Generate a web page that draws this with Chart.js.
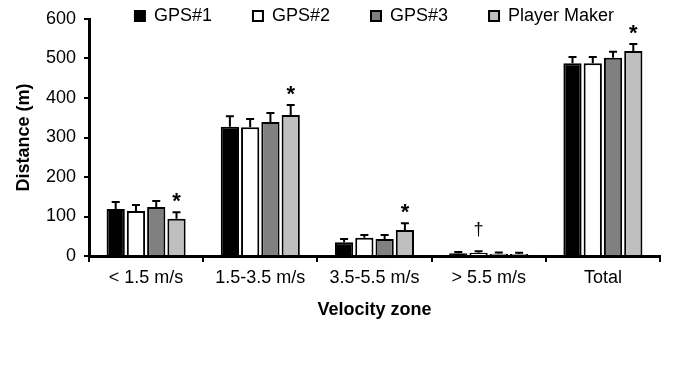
<!DOCTYPE html>
<html lang="en">
<head>
  <meta charset="UTF-8">
  <title>Distance by velocity zone</title>
  <script src="https://cdn.jsdelivr.net/npm/chart.js"></script>
  <style>
    body { margin: 0; background: #fff; }
    .wrap { width: 679px; height: 371px; }
  </style>
</head>
<body>
<div class="wrap"><canvas id="chart" width="679" height="371"></canvas></div>
<script>
  const zones = ['< 1.5 m/s', '1.5-3.5 m/s', '3.5-5.5 m/s', '> 5.5 m/s', 'Total'];
  const yTicks = [0, 100, 200, 300, 400, 500, 600];

  const gps1 = [119, 327, 35, 7, 488];
  const gps2 = [114, 326, 46, 8, 488];
  const gps3 = [124, 339, 43, 6, 502];
  const playerMaker = [94, 357, 66, 5, 519];

  const gps1Sd = [18, 27, 8, 3, 16];
  const gps2Sd = [15, 21, 7, 4, 16];
  const gps3Sd = [15, 23, 10, 3, 15];
  const playerMakerSd = [17, 25, 17, 3, 18];

  // significance marks: [dataset index, zone index, symbol]
  const marks = [
    [3, 0, '*'], [3, 1, '*'], [3, 2, '*'], [1, 3, '\u2020'], [3, 4, '*']
  ];

  const font = "'Liberation Sans', Arial, sans-serif";
  const sds = [gps1Sd, gps2Sd, gps3Sd, playerMakerSd];

  // centre the legend over the plot area and let its text spill below its box
  const legendShift = {
    id: 'legendShift',
    afterLayout(chart) {
      const lg = chart.legend, ca = chart.chartArea;
      const dx = (ca.left + ca.right) / 2 - (lg.left + lg.right) / 2;
      lg.left += dx;
      lg.right += dx;
      lg.bottom += 14;
    }
  };

  const errorBars = {
    id: 'errorBars',
    afterDatasetsDraw(chart) {
      const ctx = chart.ctx;
      const y = chart.scales.y;
      ctx.save();
      ctx.strokeStyle = '#000';
      ctx.lineWidth = 2;
      chart.data.datasets.forEach((ds, di) => {
        const meta = chart.getDatasetMeta(di);
        meta.data.forEach((bar, i) => {
          const top = y.getPixelForValue(ds.data[i] + sds[di][i]);
          ctx.beginPath();
          ctx.moveTo(bar.x, bar.y);
          ctx.lineTo(bar.x, top);
          ctx.moveTo(bar.x - 4, top);
          ctx.lineTo(bar.x + 4, top);
          ctx.stroke();
        });
      });
      ctx.fillStyle = '#000';
      ctx.textAlign = 'center';
      ctx.textBaseline = 'middle';
      marks.forEach(([di, i, sym]) => {
        const bar = chart.getDatasetMeta(di).data[i];
        const ds = chart.data.datasets[di];
        const top = y.getPixelForValue(ds.data[i] + sds[di][i]);
        if (sym === '*') {
          ctx.font = 'bold 22px ' + font;
          ctx.fillText(sym, bar.x, top - 10);
        } else {
          ctx.font = '18px ' + font;
          ctx.fillText(sym, bar.x, top - 21);
        }
      });
      ctx.restore();
    }
  };

  const common = { borderColor: '#000', borderWidth: 2, categoryPercentage: 0.71, barPercentage: 0.9 };

  new Chart(document.getElementById('chart'), {
    type: 'bar',
    data: {
      labels: zones,
      datasets: [
        { label: 'GPS#1', data: gps1, backgroundColor: '#000', ...common },
        { label: 'GPS#2', data: gps2, backgroundColor: '#fff', ...common },
        { label: 'GPS#3', data: gps3, backgroundColor: '#808080', ...common },
        { label: 'Player Maker', data: playerMaker, backgroundColor: '#bfbfbf', ...common }
      ]
    },
    options: {
      responsive: false,
      animation: false,
      layout: { padding: { left: 9, right: 19, top: -34, bottom: 46 } },
      plugins: {
        tooltip: { enabled: false },
        legend: {
          position: 'top',
          maxHeight: 53,
          labels: {
            color: '#000',
            font: { family: font, size: 18 },
            boxWidth: 10,
            boxHeight: 10,
            padding: 41
          }
        }
      },
      scales: {
        x: {
          border: { color: '#000', width: 3 },
          grid: { drawOnChartArea: false, color: '#000', lineWidth: 2, tickLength: 6 },
          ticks: { color: '#000', font: { family: font, size: 18 }, padding: 5, maxRotation: 0 },
          title: { display: true, text: 'Velocity zone', color: '#000', font: { family: font, size: 18, weight: 'bold' }, padding: 4 },
          afterFit(scale) { scale.height = 69; }
        },
        y: {
          min: 0,
          max: 600,
          afterBuildTicks(scale) { scale.ticks = yTicks.map(v => ({ value: v })); },
          border: { color: '#000', width: 3 },
          grid: { drawOnChartArea: false, color: '#000', lineWidth: 2, tickLength: 5 },
          ticks: { color: '#000', font: { family: font, size: 18 }, padding: 8 },
          title: { display: true, text: 'Distance (m)', color: '#000', font: { family: font, size: 18, weight: 'bold' }, padding: 4 },
          afterFit(scale) { scale.width = 80; }
        }
      }
    },
    plugins: [errorBars, legendShift]
  });
</script>
</body>
</html>
